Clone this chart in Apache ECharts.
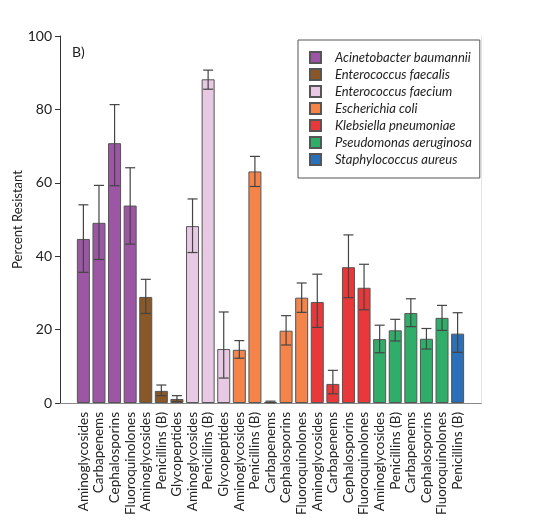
<!DOCTYPE html>
<html>
<head>
<meta charset="utf-8">
<script src="https://cdn.jsdelivr.net/npm/echarts@6/dist/echarts.min.js"></script>
<style>
  html, body { margin: 0; padding: 0; background: #fff; }
  #chart { width: 540px; height: 525px; }
</style>
</head>
<body>
<div id="chart"></div>
<script>
// 数据
const organisms = [
  'Acinetobacter baumannii', 'Enterococcus faecalis', 'Enterococcus faecium',
  'Escherichia coli', 'Klebsiella pneumoniae', 'Pseudomonas aeruginosa', 'Staphylococcus aureus'
];
const colors = ['#9b56a4', '#8a5726', '#e7c9e3', '#f4844a', '#e9383a', '#31ad6a', '#2a6fb7'];

const drugs = [
  'Aminoglycosides', 'Carbapenems', 'Cephalosporins', 'Fluoroquinolones',
  'Aminoglycosides', 'Penicillins (B)', 'Glycopeptides',
  'Aminoglycosides', 'Penicillins (B)', 'Glycopeptides',
  'Aminoglycosides', 'Penicillins (B)', 'Carbapenems', 'Cephalosporins', 'Fluoroquinolones',
  'Aminoglycosides', 'Carbapenems', 'Cephalosporins', 'Fluoroquinolones',
  'Aminoglycosides', 'Penicillins (B)', 'Carbapenems', 'Cephalosporins', 'Fluoroquinolones',
  'Penicillins (B)'
];
// 每根柱子属于哪个菌 (organisms 的下标)
const group = [0,0,0,0, 1,1,1, 2,2,2, 3,3,3,3,3, 4,4,4,4, 5,5,5,5,5, 6];
const resistant = [44.7, 49.1, 70.8, 53.8, 28.9, 3.3, 1.1, 48.2, 88.2, 14.7, 14.5, 63.1, 0.3,
  19.7, 28.7, 27.5, 5.2, 37.0, 31.4, 17.4, 19.8, 24.5, 17.5, 23.2, 18.9];
const errLow = [35.6, 39.1, 59.2, 43.3, 24.4, 2.0, 0.4, 41.0, 85.5, 6.8, 12.2, 59.0, 0.1,
  15.8, 24.7, 20.6, 2.5, 28.7, 25.4, 13.7, 16.9, 20.8, 14.7, 19.8, 13.8];
const errHigh = [54.0, 59.3, 81.3, 64.1, 33.7, 4.9, 2.0, 55.6, 90.7, 24.8, 17.0, 67.2, 0.5,
  23.8, 32.7, 35.1, 8.9, 45.8, 37.8, 21.2, 22.8, 28.4, 20.3, 26.6, 24.6];
const yTicks = [0, 20, 40, 60, 80, 100];

// 两端各留一个空位
const axisData = [''].concat(drugs, ['']);

const barSeries = organisms.map((name, g) => ({
  name: name,
  type: 'bar',
  barWidth: 13,
  barGap: '-100%',
  itemStyle: { color: colors[g], borderColor: '#555', borderWidth: 1 },
  data: axisData.map((_, i) => (i > 0 && i <= drugs.length && group[i - 1] === g) ? resistant[i - 1] : '-'),
  z: 2
}));

const errSeries = {
  type: 'custom',
  name: 'err',
  data: drugs.map((_, i) => [i + 1, errLow[i], errHigh[i]]),
  renderItem: function (params, api) {
    const lo = api.coord([api.value(0), api.value(1)]);
    const hi = api.coord([api.value(0), api.value(2)]);
    const hw = 5;
    const style = { stroke: '#444', lineWidth: 1.2 };
    return {
      type: 'group',
      children: [
        { type: 'line', shape: { x1: hi[0], y1: hi[1], x2: lo[0], y2: lo[1] }, style: style },
        { type: 'line', shape: { x1: hi[0] - hw, y1: hi[1], x2: hi[0] + hw, y2: hi[1] }, style: style },
        { type: 'line', shape: { x1: lo[0] - hw, y1: lo[1], x2: lo[0] + hw, y2: lo[1] }, style: style }
      ]
    };
  },
  z: 3
};

const chart = echarts.init(document.getElementById('chart'));
chart.setOption({
  animation: false,
  textStyle: { fontFamily: 'Lato' },
  title: {
    text: 'B)', left: 67, top: 40,
    textStyle: { fontSize: 14, fontWeight: 'normal', color: '#222', fontFamily: 'Lato' }
  },
  legend: {
    data: organisms,
    orient: 'vertical',
    left: 298, top: 40,
    padding: [11, 8, 12, 11],
    itemWidth: 11, itemHeight: 11, itemGap: 4,
    icon: 'rect',
    borderColor: '#555', borderWidth: 1,
    textStyle: { fontSize: 13, lineHeight: 13, fontStyle: 'italic', color: '#222', fontFamily: 'Lato', padding: [0, 0, 0, 9] }
  },
  grid: { left: 60, right: 59, top: 36, bottom: 122 },
  xAxis: [{
    type: 'category',
    data: axisData,
    axisLine: { lineStyle: { color: '#555' } },
    axisTick: { show: false },
    axisLabel: { rotate: 90, interval: 0, margin: 9, fontSize: 13.5, color: '#222', fontFamily: 'Lato' }
  }, {
    type: 'category',
    position: 'top',
    data: axisData,
    axisLine: { lineStyle: { color: '#888' } },
    axisTick: { show: false },
    axisLabel: { show: false }
  }],
  yAxis: [{
    type: 'value',
    min: yTicks[0], max: yTicks[yTicks.length - 1], interval: 20,
    name: 'Percent Resistant',
    nameLocation: 'middle',
    nameGap: 36,
    nameMoveOverlap: false,
    nameTextStyle: { fontSize: 13, color: '#222', fontFamily: 'Lato' },
    axisLine: { show: true, lineStyle: { color: '#333' } },
    axisTick: { show: true, length: 5, lineStyle: { color: '#333' } },
    axisLabel: { fontSize: 14, color: '#222', margin: 8, fontFamily: 'Lato' },
    splitLine: { show: false }
  }, {
    type: 'value',
    position: 'right',
    min: 0, max: 100,
    axisLine: { show: true, lineStyle: { color: '#e4e4e4' } },
    axisTick: { show: false },
    axisLabel: { show: false },
    splitLine: { show: false }
  }],
  series: barSeries.concat([errSeries])
});
</script>
</body>
</html>
